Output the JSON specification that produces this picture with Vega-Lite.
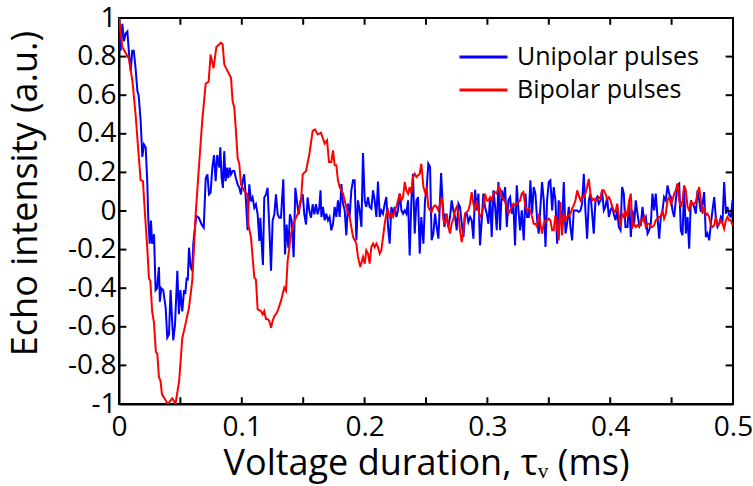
{
  "$schema": "https://vega.github.io/schema/vega-lite/v6.json",
  "width": 614,
  "height": 386,
  "autosize": {"type": "none"},
  "padding": {"left": 119, "top": 18, "right": 20, "bottom": 82},
  "background": "white",
  "config": {
    "font": "Open Sans",
    "view": {"stroke": "black", "strokeWidth": 2},
    "axis": {
      "labelFont": "Open Sans",
      "titleFont": "Open Sans",
      "labelColor": "black",
      "titleColor": "black",
      "labelFontSize": 28,
      "titleFontSize": 34,
      "titleFontWeight": "normal",
      "domainColor": "black",
      "domainWidth": 2,
      "ticks": false,
      "grid": false
    }
  },
  "resolve": {"axis": {"x": "independent", "y": "independent"}},
  "layer": [
    {
      "data": {"values": [
        {"t":0,"v":1.0},{"t":0.0013,"v":0.83},{"t":0.0027,"v":0.97},{"t":0.004,"v":0.88},{"t":0.0054,"v":0.92},{"t":0.0068,"v":0.93},{"t":0.008,"v":0.83},{"t":0.0095,"v":0.725},{"t":0.0108,"v":0.83},{"t":0.012,"v":0.83},{"t":0.0135,"v":0.74},{"t":0.015,"v":0.62},{"t":0.016,"v":0.6},{"t":0.0176,"v":0.47},{"t":0.019,"v":0.28},{"t":0.0203,"v":0.345},{"t":0.0217,"v":0.33},{"t":0.023,"v":0.155},{"t":0.0238,"v":-0.035},{"t":0.025,"v":-0.17},{"t":0.026,"v":-0.05},{"t":0.027,"v":-0.17},{"t":0.0285,"v":-0.12},{"t":0.0298,"v":-0.41},{"t":0.031,"v":-0.4},{"t":0.0325,"v":-0.29},{"t":0.0333,"v":-0.47},{"t":0.0344,"v":-0.4},{"t":0.036,"v":-0.41},{"t":0.038,"v":-0.5},{"t":0.0393,"v":-0.656},{"t":0.0407,"v":-0.64},{"t":0.042,"v":-0.41},{"t":0.0434,"v":-0.587},{"t":0.0442,"v":-0.67},{"t":0.0456,"v":-0.59},{"t":0.0475,"v":-0.31},{"t":0.0488,"v":-0.535},{"t":0.05,"v":-0.41},{"t":0.0515,"v":-0.52},{"t":0.053,"v":-0.41},{"t":0.054,"v":-0.43},{"t":0.0551,"v":-0.345},{"t":0.056,"v":-0.36},{"t":0.057,"v":-0.19},{"t":0.0584,"v":-0.29},{"t":0.0597,"v":-0.31},{"t":0.0605,"v":-0.17},{"t":0.0616,"v":-0.1},{"t":0.063,"v":-0.026},{"t":0.065,"v":-0.035},{"t":0.0673,"v":-0.07},{"t":0.069,"v":-0.086},{"t":0.0706,"v":0.17},{"t":0.072,"v":0.19},{"t":0.0733,"v":0.086},{"t":0.0746,"v":0.095},{"t":0.076,"v":0.225},{"t":0.0774,"v":0.29},{"t":0.0787,"v":0.155},{"t":0.08,"v":0.29},
        {"t":0.0817,"v":0.225},{"t":0.0825,"v":0.33},{"t":0.0836,"v":0.17},{"t":0.0846,"v":0.12},{"t":0.0857,"v":0.31},{"t":0.0868,"v":0.155},{"t":0.0879,"v":0.225},{"t":0.089,"v":0.17},{"t":0.0901,"v":0.225},{"t":0.0912,"v":0.19},{"t":0.0925,"v":0.207},{"t":0.0939,"v":0.207},{"t":0.0952,"v":0.17},{"t":0.0966,"v":0.138},{"t":0.098,"v":0.12},{"t":0.0993,"v":0.086},{"t":0.1007,"v":0.155},{"t":0.102,"v":0.19},{"t":0.1034,"v":0.05},{"t":0.1047,"v":-0.1},{"t":0.1061,"v":0.138},{"t":0.1075,"v":0.05},{"t":0.1088,"v":0.07},{"t":0.1102,"v":0.017},{"t":0.1115,"v":0.035},{"t":0.1129,"v":-0.017},{"t":0.1143,"v":-0.155},{"t":0.1151,"v":-0.035},{"t":0.1162,"v":-0.17},{"t":0.1172,"v":-0.28},{"t":0.1183,"v":0.07},{"t":0.1197,"v":0.086},{"t":0.121,"v":0.12},{"t":0.1224,"v":-0.086},{"t":0.1238,"v":-0.31},{"t":0.1251,"v":-0.05},{"t":0.1265,"v":-0.017},{"t":0.1278,"v":0.086},{"t":0.1292,"v":-0.017},{"t":0.1305,"v":-0.035},{"t":0.1319,"v":-0.035},{"t":0.1338,"v":0.164},{"t":0.1352,"v":-0.225},{"t":0.1365,"v":-0.07},{"t":0.1379,"v":-0.19},{"t":0.1392,"v":-0.017},{"t":0.1406,"v":-0.05},{"t":0.1422,"v":-0.24},{"t":0.1436,"v":0.12},{"t":0.1449,"v":0.05},{"t":0.1463,"v":-0.017},{"t":0.1477,"v":0.05},{"t":0.1496,"v":0.086},{"t":0.1509,"v":-0.017},{"t":0.1523,"v":-0.07},{"t":0.1536,"v":0.07},{"t":0.155,"v":0.0},{"t":0.1564,"v":-0.035},{"t":0.1577,"v":0.035},{"t":0.1591,"v":-0.017},{"t":0.1604,"v":0.035},{"t":0.1618,"v":-0.017},{"t":0.1631,"v":0.017},
        {"t":0.1641,"v":0.107},{"t":0.1648,"v":-0.031},{"t":0.1661,"v":0.021},{"t":0.1675,"v":-0.048},{"t":0.1688,"v":-0.014},{"t":0.1702,"v":-0.048},{"t":0.1715,"v":-0.031},{"t":0.1729,"v":-0.1},{"t":0.1743,"v":-0.066},{"t":0.1756,"v":0.021},{"t":0.177,"v":-0.031},{"t":0.1783,"v":0.055},{"t":0.1797,"v":-0.031},{"t":0.1811,"v":0.14},{"t":0.1824,"v":0.038},{"t":0.1838,"v":0.003},{"t":0.1851,"v":-0.126},{"t":0.1865,"v":0.038},{"t":0.1878,"v":-0.031},{"t":0.1892,"v":0.107},{"t":0.1906,"v":0.159},{"t":0.1919,"v":0.159},{"t":0.1933,"v":-0.152},{"t":0.1946,"v":0.055},{"t":0.196,"v":0.003},{"t":0.1974,"v":-0.083},{"t":0.1987,"v":0.3},{"t":0.2001,"v":0.055},{"t":0.2014,"v":0.021},{"t":0.2028,"v":0.072},{"t":0.2041,"v":0.021},{"t":0.2055,"v":0.012},{"t":0.2069,"v":0.107},{"t":0.2082,"v":0.055},{"t":0.2096,"v":-0.031},{"t":0.2109,"v":0.152},{"t":0.2123,"v":-0.031},{"t":0.2136,"v":0.003},{"t":0.215,"v":-0.014},{"t":0.2164,"v":0.038},{"t":0.2177,"v":0.072},{"t":0.2191,"v":-0.083},{"t":0.2204,"v":-0.169},{"t":0.2218,"v":0.021},{"t":0.2232,"v":-0.014},{"t":0.2245,"v":0.021},{"t":0.2259,"v":-0.031},{"t":0.2272,"v":0.003},{"t":0.2286,"v":0.09},{"t":0.23,"v":0.003},{"t":0.2313,"v":-0.014},{"t":0.2327,"v":0.003},{"t":0.234,"v":-0.014},{"t":0.2354,"v":0.055},{"t":0.2367,"v":-0.23},{"t":0.2381,"v":0.055},{"t":0.2394,"v":0.193},{"t":0.2408,"v":-0.117},{"t":0.2422,"v":0.055},{"t":0.2435,"v":0.072},{"t":0.2449,"v":-0.221},{"t":0.2462,"v":-0.031},
        {"t":0.2479,"v":-0.169},{"t":0.2492,"v":0.055},{"t":0.2506,"v":0.124},{"t":0.2519,"v":0.245},{"t":0.2533,"v":0.228},{"t":0.2546,"v":-0.152},{"t":0.256,"v":-0.117},{"t":0.2574,"v":-0.014},{"t":0.2587,"v":-0.083},{"t":0.2601,"v":-0.143},{"t":0.2614,"v":0.055},{"t":0.2623,"v":0.197},{"t":0.2636,"v":0.038},{"t":0.265,"v":-0.083},{"t":0.2661,"v":-0.014},{"t":0.2671,"v":-0.048},{"t":0.2682,"v":-0.083},{"t":0.2696,"v":-0.031},{"t":0.2709,"v":0.055},{"t":0.2723,"v":0.003},{"t":0.2737,"v":-0.031},{"t":0.275,"v":-0.1},{"t":0.2764,"v":0.038},{"t":0.2777,"v":0.021},{"t":0.2791,"v":-0.066},{"t":0.2805,"v":-0.135},{"t":0.2818,"v":-0.014},{"t":0.2832,"v":-0.014},{"t":0.2845,"v":-0.057},{"t":0.2859,"v":-0.031},{"t":0.2872,"v":-0.048},{"t":0.2886,"v":-0.143},{"t":0.29,"v":0.11},{"t":0.2913,"v":0.003},{"t":0.2927,"v":0.09},{"t":0.294,"v":-0.178},{"t":0.2954,"v":-0.048},{"t":0.2967,"v":0.09},{"t":0.2981,"v":0.021},{"t":0.2995,"v":-0.014},{"t":0.3008,"v":-0.066},{"t":0.3022,"v":0.072},{"t":0.3035,"v":-0.135},{"t":0.3049,"v":0.107},{"t":0.3063,"v":0.021},{"t":0.3076,"v":-0.1},{"t":0.309,"v":0.15},{"t":0.3103,"v":-0.1},{"t":0.3117,"v":0.107},{"t":0.313,"v":0.055},{"t":0.3144,"v":0.124},{"t":0.3158,"v":-0.083},{"t":0.3171,"v":0.055},{"t":0.3185,"v":0.072},{"t":0.3198,"v":-0.014},{"t":0.3212,"v":0.03},{"t":0.3225,"v":-0.178},{"t":0.3239,"v":0.133},{"t":0.3253,"v":0.003},{"t":0.3266,"v":-0.1},{"t":0.328,"v":0.003},
        {"t":0.3296,"v":-0.152},{"t":0.331,"v":0.09},{"t":0.3323,"v":-0.031},{"t":0.3337,"v":-0.031},{"t":0.335,"v":0.159},{"t":0.3364,"v":-0.014},{"t":0.3377,"v":0.124},{"t":0.3391,"v":0.09},{"t":0.3405,"v":-0.048},{"t":0.3418,"v":-0.117},{"t":0.3432,"v":0.021},{"t":0.3445,"v":0.15},{"t":0.3459,"v":0.055},{"t":0.3473,"v":-0.186},{"t":0.3486,"v":0.055},{"t":0.35,"v":0.15},{"t":0.3513,"v":0.159},{"t":0.3527,"v":0.003},{"t":0.354,"v":0.124},{"t":0.3554,"v":0.055},{"t":0.3568,"v":-0.169},{"t":0.3581,"v":0.055},{"t":0.3595,"v":-0.048},{"t":0.3608,"v":-0.066},{"t":0.3622,"v":0.15},{"t":0.3636,"v":-0.117},{"t":0.3649,"v":-0.066},{"t":0.3663,"v":0.021},{"t":0.3676,"v":-0.083},{"t":0.369,"v":-0.152},{"t":0.3703,"v":0.003},{"t":0.3717,"v":0.003},{"t":0.3731,"v":0.003},{"t":0.3744,"v":-0.005},{"t":0.3758,"v":0.003},{"t":0.3771,"v":0.038},{"t":0.3785,"v":0.193},{"t":0.3798,"v":0.003},{"t":0.3812,"v":-0.143},{"t":0.3826,"v":0.055},{"t":0.3839,"v":0.09},{"t":0.3853,"v":-0.014},{"t":0.3866,"v":-0.117},{"t":0.388,"v":0.055},{"t":0.3894,"v":0.072},{"t":0.3907,"v":0.038},{"t":0.3921,"v":0.055},{"t":0.3934,"v":0.107},{"t":0.3948,"v":0.003},{"t":0.3961,"v":0.021},{"t":0.3975,"v":0.072},{"t":0.3989,"v":-0.031},{"t":0.4002,"v":0.003},{"t":0.4016,"v":0.021},{"t":0.4029,"v":-0.014},{"t":0.4043,"v":-0.048},{"t":0.4057,"v":0.003},{"t":0.407,"v":-0.083},{"t":0.4084,"v":-0.1},{"t":0.4097,"v":0.124},{"t":0.4111,"v":0.09},{"t":0.4124,"v":-0.083},
        {"t":0.4141,"v":-0.083},{"t":0.4154,"v":0.055},{"t":0.4168,"v":-0.135},{"t":0.4181,"v":0.003},{"t":0.4195,"v":-0.066},{"t":0.4208,"v":0.055},{"t":0.4222,"v":-0.014},{"t":0.4236,"v":-0.074},{"t":0.4249,"v":-0.074},{"t":0.4263,"v":0.021},{"t":0.4276,"v":-0.048},{"t":0.429,"v":-0.031},{"t":0.4304,"v":-0.117},{"t":0.4317,"v":-0.1},{"t":0.4331,"v":-0.066},{"t":0.4344,"v":0.09},{"t":0.4358,"v":0.003},{"t":0.4371,"v":0.09},{"t":0.4385,"v":-0.031},{"t":0.4399,"v":-0.143},{"t":0.4412,"v":-0.031},{"t":0.4426,"v":0.003},{"t":0.4439,"v":0.072},{"t":0.4453,"v":0.055},{"t":0.4467,"v":0.133},{"t":0.448,"v":0.09},{"t":0.4494,"v":0.072},{"t":0.4507,"v":0.003},{"t":0.4521,"v":-0.031},{"t":0.4534,"v":0.055},{"t":0.4548,"v":0.133},{"t":0.4562,"v":0.142},{"t":0.4575,"v":-0.1},{"t":0.4589,"v":-0.126},{"t":0.4602,"v":0.124},{"t":0.4616,"v":-0.117},{"t":0.463,"v":-0.031},{"t":0.4643,"v":-0.195},{"t":0.4657,"v":0.055},{"t":0.467,"v":0.038},{"t":0.4684,"v":0.021},{"t":0.4697,"v":-0.014},{"t":0.4711,"v":0.107},{"t":0.4725,"v":0.055},{"t":0.4738,"v":-0.005},{"t":0.4752,"v":0.038},{"t":0.4765,"v":0.098},{"t":0.4779,"v":-0.135},{"t":0.4792,"v":-0.117},{"t":0.4806,"v":-0.152},{"t":0.482,"v":-0.066},{"t":0.4833,"v":0.003},{"t":0.4847,"v":0.072},{"t":0.486,"v":-0.031},{"t":0.4874,"v":-0.083},{"t":0.4888,"v":-0.066},{"t":0.4901,"v":-0.031},{"t":0.4915,"v":-0.048},{"t":0.4928,"v":0.15},{"t":0.4942,"v":-0.014},{"t":0.4955,"v":0.021},{"t":0.4969,"v":-0.022},{"t":0.4982,"v":-0.031},{"t":0.4996,"v":0.055},{"t":0.5,"v":0.064}
      ]},
      "mark": {"type": "line", "strokeWidth": 2, "clip": true},
      "encoding": {
        "x": {"field": "t", "type": "quantitative", "scale": {"domain": [0, 0.5], "nice": false},
          "axis": {"orient": "bottom", "title": "Voltage duration, τᵥ   (ms)", "values": [0,0.1,0.2,0.3,0.4,0.5], "format": "~g",
            "labelPadding": 9, "titlePadding": 5, "titleFontSize": 36, "labelFlush": false, "labelOverlap": false}},
        "y": {"field": "v", "type": "quantitative", "scale": {"domain": [-1, 1], "nice": false},
          "axis": {"orient": "left", "title": "Echo intensity (a.u.)", "values": [-1,-0.8,-0.6,-0.4,-0.2,0,0.2,0.4,0.6,0.8,1], "format": "~g",
            "labelExpr": "replace(datum.label, '−', '-')", "labelPadding": 3, "labelFlush": false, "labelOverlap": false,
            "titleX": -94, "titleY": 175, "titleAlign": "center", "titleBaseline": "middle", "titleAngle": -90, "titleFontSize": 36}},
        "color": {"datum": "Unipolar pulses", "type": "nominal",
          "scale": {"domain": ["Unipolar pulses", "Bipolar pulses"], "range": ["#0000ff", "#ff0000"]},
          "legend": {"title": null, "orient": "none", "legendX": 339, "legendY": 24, "symbolType": "stroke", "symbolSize": 2304, "symbolStrokeWidth": 3,
            "labelFontSize": 25, "labelFont": "Open Sans", "labelColor": "black", "labelOffset": 8, "labelLimit": 400, "clipHeight": 30, "rowPadding": 3}}
      }
    },
    {
      "data": {"values": [
        {"t":0,"v":1.0},{"t":0.0027,"v":0.85},{"t":0.008,"v":0.79},{"t":0.011,"v":0.67},{"t":0.0135,"v":0.5},{"t":0.016,"v":0.29},{"t":0.0176,"v":0.16},{"t":0.0195,"v":0.155},{"t":0.021,"v":0.0},{"t":0.023,"v":-0.19},{"t":0.0244,"v":-0.35},{"t":0.0255,"v":-0.36},{"t":0.027,"v":-0.52},{"t":0.0285,"v":-0.58},{"t":0.03,"v":-0.73},{"t":0.0312,"v":-0.74},{"t":0.0325,"v":-0.86},{"t":0.0338,"v":-0.88},{"t":0.035,"v":-0.95},{"t":0.038,"v":-0.98},{"t":0.0395,"v":-1.0},{"t":0.041,"v":-0.99},{"t":0.0434,"v":-0.97},{"t":0.046,"v":-1.0},{"t":0.049,"v":-0.88},{"t":0.0515,"v":-0.66},{"t":0.054,"v":-0.59},{"t":0.057,"v":-0.5},{"t":0.0597,"v":-0.36},{"t":0.0624,"v":-0.02},{"t":0.065,"v":0.22},{"t":0.0678,"v":0.47},{"t":0.0706,"v":0.66},{"t":0.073,"v":0.67},{"t":0.0746,"v":0.81},{"t":0.077,"v":0.74},{"t":0.0793,"v":0.85},
        {"t":0.0817,"v":0.864},{"t":0.083,"v":0.872},{"t":0.0844,"v":0.864},{"t":0.0857,"v":0.76},{"t":0.0884,"v":0.725},{"t":0.0912,"v":0.69},{"t":0.0925,"v":0.57},{"t":0.0939,"v":0.535},{"t":0.0952,"v":0.415},{"t":0.0966,"v":0.276},{"t":0.098,"v":0.242},{"t":0.0993,"v":0.138},{"t":0.1007,"v":0.12},{"t":0.102,"v":0.104},{"t":0.1047,"v":0.086},{"t":0.1053,"v":-0.069},{"t":0.1075,"v":-0.138},{"t":0.1088,"v":-0.24},{"t":0.1102,"v":-0.345},{"t":0.1115,"v":-0.354},{"t":0.1129,"v":-0.51},{"t":0.1156,"v":-0.518},{"t":0.117,"v":-0.535},{"t":0.1183,"v":-0.518},{"t":0.1197,"v":-0.56},{"t":0.121,"v":-0.56},{"t":0.1224,"v":-0.57},{"t":0.1238,"v":-0.605},{"t":0.1251,"v":-0.57},{"t":0.1265,"v":-0.544},{"t":0.1278,"v":-0.535},{"t":0.1292,"v":-0.518},{"t":0.1319,"v":-0.466},{"t":0.1333,"v":-0.43},{"t":0.1346,"v":-0.397},{"t":0.136,"v":-0.414},{"t":0.1373,"v":-0.26},{"t":0.1387,"v":-0.19},{"t":0.14,"v":-0.121},{"t":0.1414,"v":-0.086},{"t":0.1428,"v":-0.052},{"t":0.1455,"v":-0.017},{"t":0.1482,"v":0.052},{"t":0.1496,"v":0.19},{"t":0.1523,"v":0.207},{"t":0.155,"v":0.294},{"t":0.1577,"v":0.415},{"t":0.1596,"v":0.423},{"t":0.1618,"v":0.397},{"t":0.1645,"v":0.406},
        {"t":0.1675,"v":0.349},{"t":0.1694,"v":0.366},{"t":0.171,"v":0.254},{"t":0.1729,"v":0.254},{"t":0.1743,"v":0.314},{"t":0.1756,"v":0.237},{"t":0.177,"v":0.237},{"t":0.1783,"v":0.159},{"t":0.1797,"v":0.124},{"t":0.1824,"v":0.09},{"t":0.1851,"v":0.021},{"t":0.1878,"v":-0.031},{"t":0.1906,"v":-0.135},{"t":0.1933,"v":-0.169},{"t":0.1946,"v":-0.238},{"t":0.1965,"v":-0.29},{"t":0.1987,"v":-0.238},{"t":0.2001,"v":-0.273},{"t":0.2014,"v":-0.204},{"t":0.2028,"v":-0.221},{"t":0.2041,"v":-0.273},{"t":0.2055,"v":-0.187},{"t":0.2069,"v":-0.169},{"t":0.2082,"v":-0.187},{"t":0.2096,"v":-0.169},{"t":0.2109,"v":-0.187},{"t":0.2123,"v":-0.221},{"t":0.2136,"v":-0.204},{"t":0.215,"v":-0.135},{"t":0.2164,"v":-0.066},{"t":0.2177,"v":-0.014},{"t":0.2191,"v":0.003},{"t":0.2204,"v":-0.031},{"t":0.2218,"v":-0.014},{"t":0.2232,"v":-0.031},{"t":0.2245,"v":0.003},{"t":0.2259,"v":0.021},{"t":0.2272,"v":0.055},{"t":0.2286,"v":0.09},{"t":0.23,"v":0.055},{"t":0.2313,"v":0.072},{"t":0.2327,"v":0.15},{"t":0.234,"v":0.107},{"t":0.2354,"v":0.09},{"t":0.2367,"v":0.124},{"t":0.2381,"v":0.09},{"t":0.2394,"v":0.176},{"t":0.2408,"v":0.193},{"t":0.2422,"v":0.176},{"t":0.2449,"v":0.193},{"t":0.2462,"v":0.245},
        {"t":0.2479,"v":0.124},{"t":0.2492,"v":0.098},{"t":0.2506,"v":0.116},{"t":0.2519,"v":0.021},{"t":0.2533,"v":0.003},{"t":0.2546,"v":-0.005},{"t":0.256,"v":0.021},{"t":0.2574,"v":0.029},{"t":0.2587,"v":0.021},{"t":0.2601,"v":0.003},{"t":0.2614,"v":0.038},{"t":0.2628,"v":0.072},{"t":0.2642,"v":-0.048},{"t":0.2655,"v":-0.066},{"t":0.2669,"v":-0.014},{"t":0.2682,"v":-0.083},{"t":0.2696,"v":-0.117},{"t":0.2709,"v":-0.066},{"t":0.2723,"v":-0.04},{"t":0.2737,"v":0.003},{"t":0.275,"v":0.021},{"t":0.2764,"v":-0.014},{"t":0.2777,"v":-0.1},{"t":0.2791,"v":-0.161},{"t":0.2805,"v":-0.1},{"t":0.2818,"v":-0.014},{"t":0.2832,"v":-0.005},{"t":0.2845,"v":0.003},{"t":0.2859,"v":0.038},{"t":0.2872,"v":0.098},{"t":0.2886,"v":0.038},{"t":0.29,"v":0.003},{"t":0.2913,"v":0.055},{"t":0.2927,"v":0.003},{"t":0.294,"v":-0.031},{"t":0.2954,"v":-0.014},{"t":0.2967,"v":0.021},{"t":0.2981,"v":0.09},{"t":0.2995,"v":0.055},{"t":0.3008,"v":0.055},{"t":0.3022,"v":0.072},{"t":0.3035,"v":0.055},{"t":0.3049,"v":0.09},{"t":0.3063,"v":0.098},{"t":0.3076,"v":0.09},{"t":0.309,"v":0.124},{"t":0.3103,"v":0.116},{"t":0.3117,"v":0.072},{"t":0.313,"v":0.064},{"t":0.3144,"v":0.047},{"t":0.3158,"v":0.021},{"t":0.3171,"v":-0.014},{"t":0.3185,"v":0.003},{"t":0.3198,"v":0.021},{"t":0.3212,"v":0.038},{"t":0.3225,"v":0.029},{"t":0.3239,"v":0.038},{"t":0.3253,"v":0.047},{"t":0.3266,"v":0.055},{"t":0.328,"v":0.09},{"t":0.3293,"v":0.098},
        {"t":0.331,"v":0.021},{"t":0.3323,"v":0.003},{"t":0.3337,"v":0.012},{"t":0.335,"v":0.003},{"t":0.3364,"v":-0.031},{"t":0.3377,"v":-0.066},{"t":0.3391,"v":-0.066},{"t":0.3405,"v":-0.083},{"t":0.3418,"v":-0.014},{"t":0.3432,"v":-0.066},{"t":0.3445,"v":-0.117},{"t":0.3459,"v":-0.066},{"t":0.3473,"v":-0.048},{"t":0.3486,"v":-0.048},{"t":0.35,"v":-0.04},{"t":0.3513,"v":-0.048},{"t":0.3527,"v":-0.1},{"t":0.354,"v":-0.1},{"t":0.3554,"v":-0.022},{"t":0.3568,"v":-0.083},{"t":0.3581,"v":-0.152},{"t":0.3595,"v":0.047},{"t":0.3608,"v":-0.126},{"t":0.3622,"v":-0.014},{"t":0.3636,"v":-0.048},{"t":0.3649,"v":-0.031},{"t":0.3663,"v":-0.022},{"t":0.3676,"v":-0.014},{"t":0.369,"v":0.012},{"t":0.3703,"v":0.029},{"t":0.3717,"v":0.055},{"t":0.3731,"v":0.107},{"t":0.3744,"v":0.081},{"t":0.3758,"v":0.055},{"t":0.3771,"v":0.072},{"t":0.3785,"v":0.072},{"t":0.3798,"v":0.09},{"t":0.3812,"v":0.124},{"t":0.3826,"v":0.166},{"t":0.3839,"v":0.09},{"t":0.3853,"v":0.055},{"t":0.3866,"v":0.064},{"t":0.388,"v":0.055},{"t":0.3894,"v":0.055},{"t":0.3907,"v":0.072},{"t":0.3921,"v":0.064},{"t":0.3934,"v":0.107},{"t":0.3948,"v":0.107},{"t":0.3961,"v":0.09},{"t":0.3975,"v":0.064},{"t":0.3989,"v":0.072},{"t":0.4002,"v":0.055},{"t":0.4016,"v":0.021},{"t":0.4029,"v":0.003},{"t":0.4043,"v":-0.005},{"t":0.4057,"v":0.038},{"t":0.407,"v":-0.022},{"t":0.4084,"v":-0.083},{"t":0.4097,"v":-0.014},{"t":0.4111,"v":-0.031},{"t":0.4124,"v":0.003},
        {"t":0.4141,"v":-0.031},{"t":0.4154,"v":0.055},{"t":0.4168,"v":0.09},{"t":0.4181,"v":-0.083},{"t":0.4195,"v":-0.066},{"t":0.4208,"v":-0.083},{"t":0.4222,"v":-0.074},{"t":0.4236,"v":-0.083},{"t":0.4249,"v":-0.048},{"t":0.4263,"v":-0.048},{"t":0.4276,"v":-0.031},{"t":0.429,"v":-0.083},{"t":0.4304,"v":-0.066},{"t":0.4317,"v":-0.066},{"t":0.4331,"v":-0.083},{"t":0.4344,"v":-0.083},{"t":0.4358,"v":-0.074},{"t":0.4371,"v":-0.048},{"t":0.4385,"v":-0.04},{"t":0.4399,"v":-0.031},{"t":0.4412,"v":-0.031},{"t":0.4426,"v":0.003},{"t":0.4439,"v":-0.04},{"t":0.4453,"v":-0.014},{"t":0.4467,"v":0.055},{"t":0.448,"v":0.072},{"t":0.4494,"v":0.038},{"t":0.4507,"v":0.055},{"t":0.4521,"v":0.09},{"t":0.4534,"v":0.107},{"t":0.4548,"v":0.142},{"t":0.4562,"v":0.055},{"t":0.4575,"v":0.021},{"t":0.4589,"v":0.055},{"t":0.4602,"v":0.133},{"t":0.4616,"v":0.107},{"t":0.463,"v":0.021},{"t":0.4643,"v":0.003},{"t":0.4657,"v":0.047},{"t":0.467,"v":0.038},{"t":0.4684,"v":0.038},{"t":0.4697,"v":0.047},{"t":0.4711,"v":0.09},{"t":0.4725,"v":0.124},{"t":0.4738,"v":0.055},{"t":0.4752,"v":-0.014},{"t":0.4765,"v":0.021},{"t":0.4779,"v":-0.022},{"t":0.4792,"v":-0.014},{"t":0.4806,"v":-0.031},{"t":0.482,"v":-0.074},{"t":0.4833,"v":-0.083},{"t":0.4847,"v":-0.074},{"t":0.486,"v":-0.031},{"t":0.4874,"v":-0.074},{"t":0.4888,"v":-0.066},{"t":0.4901,"v":-0.048},{"t":0.4915,"v":-0.066},{"t":0.4928,"v":-0.092},{"t":0.4942,"v":-0.048},{"t":0.4955,"v":-0.031},{"t":0.4969,"v":-0.048},{"t":0.4982,"v":-0.048},{"t":0.4996,"v":-0.074}
      ]},
      "mark": {"type": "line", "strokeWidth": 2, "clip": true},
      "encoding": {
        "x": {"field": "t", "type": "quantitative", "axis": null},
        "y": {"field": "v", "type": "quantitative", "axis": null},
        "color": {"datum": "Bipolar pulses", "type": "nominal"}
      }
    },
    {
      "data": {"values": [{"t":0.05},{"t":0.1},{"t":0.15},{"t":0.2},{"t":0.25},{"t":0.3},{"t":0.35},{"t":0.4},{"t":0.45}]},
      "mark": {"type": "rule", "color": "black", "strokeWidth": 2},
      "encoding": {
        "x": {"field": "t", "type": "quantitative", "axis": null},
        "y": {"datum": -1, "type": "quantitative", "axis": null},
        "y2": {"datum": -0.965}
      }
    },
    {
      "data": {"values": [{"t":0.05},{"t":0.1},{"t":0.15},{"t":0.2},{"t":0.25},{"t":0.3},{"t":0.35},{"t":0.4},{"t":0.45}]},
      "mark": {"type": "rule", "color": "black", "strokeWidth": 2},
      "encoding": {
        "x": {"field": "t", "type": "quantitative", "axis": null},
        "y": {"datum": 1, "type": "quantitative", "axis": null},
        "y2": {"datum": 0.965}
      }
    },
    {
      "data": {"values": [{"v":-0.8},{"v":-0.6},{"v":-0.4},{"v":-0.2},{"v":0},{"v":0.2},{"v":0.4},{"v":0.6},{"v":0.8}]},
      "mark": {"type": "rule", "color": "black", "strokeWidth": 2},
      "encoding": {
        "y": {"field": "v", "type": "quantitative", "axis": null},
        "x": {"datum": 0, "type": "quantitative", "axis": null},
        "x2": {"datum": 0.006}
      }
    },
    {
      "data": {"values": [{"v":-0.8},{"v":-0.6},{"v":-0.4},{"v":-0.2},{"v":0},{"v":0.2},{"v":0.4},{"v":0.6},{"v":0.8}]},
      "mark": {"type": "rule", "color": "black", "strokeWidth": 2},
      "encoding": {
        "y": {"field": "v", "type": "quantitative", "axis": null},
        "x": {"datum": 0.5, "type": "quantitative", "axis": null},
        "x2": {"datum": 0.494}
      }
    }
  ]
}
